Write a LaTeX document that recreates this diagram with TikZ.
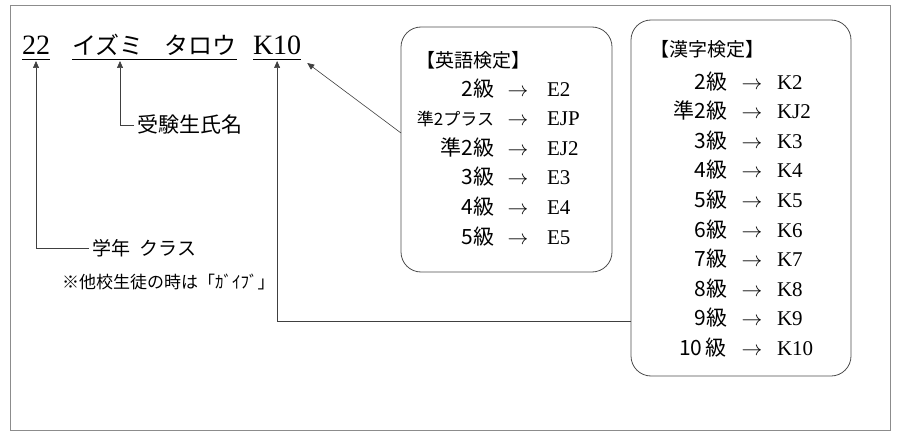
\documentclass[tikz,border=0pt]{standalone}
\usepackage{fontspec}
\usepackage{tikz}
\usetikzlibrary{arrows.meta,positioning}
\setmainfont{Liberation Serif}
\newfontfamily\jp{Noto Sans CJK JP}

\begin{document}
\begin{tikzpicture}[
    x=1pt, y=-1pt,
    every node/.style={inner sep=0pt, outer sep=0pt},
    arrow/.style={-{Triangle[length=7pt,width=6pt]}, line width=0.6pt, draw=black!75},
    uline/.style={line width=0.8pt},
    rbox/.style={draw=black!70, line width=0.8pt, rounded corners=20pt, anchor=north west},
    big/.style={font=\fontsize{28}{30}\selectfont},
    row/.style={font=\fontsize{21}{23}\selectfont}
]
    % Frame
    \useasboundingbox (0,0) rectangle (900,436);
    \draw[draw=black!45, line width=0.8pt] (10,5) rectangle (890,430);

    % Top line
    \node[big, anchor=base west] (n22) at (22,55) {22};
    \node[anchor=base west, font=\jp\fontsize{24}{26}\selectfont] (nname) at (72,55) {イズミ\hspace{0.9em}タロウ};
    \node[big, anchor=base west] (nk10) at (253,55) {K10};
    \foreach \n in {n22, nname, nk10}
        \draw[uline] ([yshift=-4pt]\n.base west) -- ([yshift=-4pt]\n.base east);

    % Labels
    \node[anchor=west, font=\jp\fontsize{21}{23}\selectfont] (lname) at (137,125) {受験生氏名};
    \node[anchor=west, font=\jp\fontsize{19}{21}\selectfont] (lgrade) at (92,248) {学年\hspace{0.5em}クラス};
    \node[anchor=west, font=\jp\fontsize{17}{19}\selectfont] (lnote) at (62,282) {※他校生徒の時は「ｶﾞｲﾌﾞ」};

    % Boxes
    \node[rbox, minimum width=211pt, minimum height=245pt] (ebox) at (401,27) {};
    \node[rbox, minimum width=220pt, minimum height=356pt] (kbox) at (631,20) {};

    \node[anchor=base west, font=\jp\fontsize{19}{21}\selectfont] (etitle) at (416,67) {【英語検定】};
    \foreach \g/\c [count=\i] in {2級/E2, {\fontsize{17}{19}\selectfont 準2プラス}/EJP, 準2級/EJ2, 3級/E3, 4級/E4, 5級/E5} {
        \node[row, anchor=base east] (eg\i) at (494,{96+(\i-1)*29.6}) {\jp\g};
        \node[row, anchor=base] (ea\i) at (518,{96+(\i-1)*29.6}) {$\to$};
        \node[row, anchor=base west] (ec\i) at (547,{96+(\i-1)*29.6}) {\c};
    }

    \node[anchor=base west, font=\jp\fontsize{19}{21}\selectfont] (ktitle) at (650,57) {【漢字検定】};
    \foreach \g/\c [count=\i] in {2級/K2, 準2級/KJ2, 3級/K3, 4級/K4, 5級/K5, 6級/K6, 7級/K7, 8級/K8, 9級/K9, 10\,級/K10} {
        \node[row, anchor=base east] (kg\i) at (727,{89+(\i-1)*29.6}) {\jp\g};
        \node[row, anchor=base] (ka\i) at (752,{89+(\i-1)*29.6}) {$\to$};
        \node[row, anchor=base west] (kc\i) at (777,{89+(\i-1)*29.6}) {\c};
    }

    % Connectors
    \coordinate (ein) at (401,133);
    \coordinate (kin) at (631,321);
    \draw[arrow] ([xshift=-3pt]lgrade.west) -| ([yshift=-6pt]n22.base);
    \draw[arrow] ([xshift=-3pt]lname.west) -| ([yshift=-6pt]nname.base -| 120,0);
    \draw[arrow] (kin) -| ([yshift=-6pt]nk10.base);
    \draw[arrow] (ein) -- ([xshift=6pt,yshift=-8pt]nk10.base east);
\end{tikzpicture}
\end{document}
